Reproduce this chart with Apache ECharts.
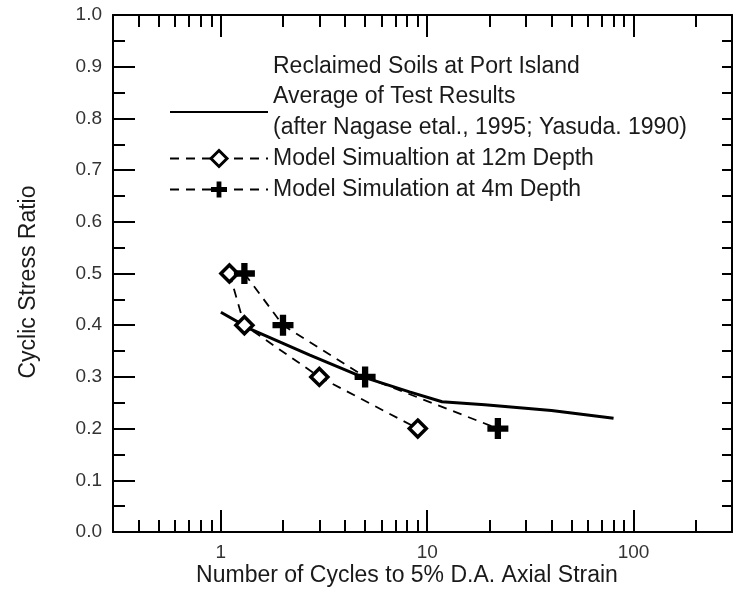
<!DOCTYPE html>
<html>
<head>
<meta charset="utf-8">
<script src="https://cdn.jsdelivr.net/npm/echarts@6/dist/echarts.min.js"></script>
<style>
html,body{margin:0;padding:0;background:#fff;}
#chart{width:736px;height:590px;}
</style>
</head>
<body>
<div id="chart"></div>
<script>
// ---- data ----
const avgX = [1.0, 1.4, 2.7, 4.7, 8.2, 11.8, 19, 40, 80];
const avgY = [0.425, 0.392, 0.342, 0.302, 0.271, 0.252, 0.246, 0.235, 0.22];
const d12X = [1.1, 1.3, 3, 9];
const d12Y = [0.5, 0.4, 0.3, 0.2];
const d4X = [1.3, 2, 5, 22];
const d4Y = [0.5, 0.4, 0.3, 0.2];
const xMajorTicks = [1, 10, 100];
const xMinorTicks = [0.4, 0.5, 0.6, 0.7, 0.8, 0.9, 2, 3, 4, 5, 6, 7, 8, 9, 20, 30, 40, 50, 60, 70, 80, 90, 200];
const xTitle = 'Number of Cycles to 5% D.A. Axial Strain';
const yTitle = 'Cyclic Stress Ratio';
const legendHead = 'Reclaimed Soils at Port Island';
const nameAvg = 'Average of Test Results\n(after Nagase etal., 1995; Yasuda. 1990)';
const name12 = 'Model Simualtion at 12m Depth';
const name4 = 'Model Simulation at 4m Depth';

const pairs = (xs, ys) => xs.map((x, i) => [x, ys[i]]);
const FONT = '"Liberation Sans", Arial, sans-serif';
const plus = 'path://M7,0H13V7H20V13H13V20H7V13H0V7H7Z';

const chart = echarts.init(document.getElementById('chart'));
const blk = '#000';
function xAx(pos, ticks, len, showLine, showLabel) {
  return {
    type: 'log', logBase: 10, min: 0.3, max: 300, position: pos,
    axisLine: {show: showLine, onZero: false, lineStyle: {color: blk, width: 2}},
    axisTick: {show: true, inside: true, length: len, customValues: ticks, lineStyle: {color: blk, width: 2}},
    axisLabel: {show: showLabel, customValues: xMajorTicks, margin: 11, fontSize: 19, color: '#333', fontFamily: FONT},
    splitLine: {show: false}, minorTick: {show: false}, minorSplitLine: {show: false}
  };
}
const option = {
  animation: false,
  backgroundColor: '#fff',
  grid: {left: 113, right: 4, top: 15, bottom: 58},
  xAxis: [
    xAx('bottom', xMajorTicks, 22, true, true),
    xAx('bottom', xMinorTicks, 12, false, false),
    xAx('top', xMajorTicks, 22, true, false),
    xAx('top', xMinorTicks, 12, false, false)
  ],
  yAxis: [
    {
      type: 'value', min: 0, max: 1, interval: 0.1, position: 'left',
      axisLine: {show: true, lineStyle: {color: blk, width: 2}},
      axisTick: {show: true, inside: true, length: 22, lineStyle: {color: blk, width: 2}},
      minorTick: {show: true, splitNumber: 2, length: 12, lineStyle: {color: blk, width: 2}},
      axisLabel: {formatter: v => v.toFixed(1), margin: 11, fontSize: 19, color: '#333', fontFamily: FONT},
      splitLine: {show: false}, minorSplitLine: {show: false}
    },
    {
      type: 'value', min: 0, max: 1, interval: 0.05, position: 'right',
      axisLine: {show: true, lineStyle: {color: blk, width: 2}},
      axisTick: {show: true, inside: true, length: 10, lineStyle: {color: blk, width: 2}},
      axisLabel: {show: false}, splitLine: {show: false}
    }
  ],
  legend: {
    orient: 'vertical', left: 164, top: 76, itemGap: 0,
    itemWidth: 98, itemHeight: 20,
    textStyle: {fontSize: 23, lineHeight: 31, color: '#1a1a1a', fontFamily: FONT},
    data: [
      {name: nameAvg, itemStyle: {opacity: 0}},
      {name: name12, itemStyle: {borderWidth: 3, color: '#fff', borderColor: blk}},
      {name: name4, itemStyle: {borderWidth: 0, color: blk}}
    ]
  },
  graphic: [
    {type: 'text', left: 273, top: 55, style: {text: legendHead, font: '23px ' + FONT, fill: '#1a1a1a'}},
    {type: 'text', x: 407, y: 576, style: {text: xTitle, font: '23px ' + FONT, fill: '#1a1a1a', align: 'center', verticalAlign: 'middle'}},
    {type: 'text', x: 29, y: 282, rotation: Math.PI / 2, style: {text: yTitle, font: '23px ' + FONT, fill: '#1a1a1a', align: 'center', verticalAlign: 'middle'}}
  ],
  series: [
    {
      name: name12, type: 'line', data: pairs(d12X, d12Y),
      symbol: 'diamond', symbolSize: 17,
      itemStyle: {color: '#fff', borderColor: blk, borderWidth: 3.5},
      lineStyle: {color: blk, width: 1.8, type: [9, 7]}, z: 3
    },
    {
      name: name4, type: 'line', data: pairs(d4X, d4Y),
      symbol: plus, symbolSize: 21,
      itemStyle: {color: blk, borderWidth: 0},
      lineStyle: {color: blk, width: 1.8, type: [9, 7]}, z: 3
    },
    {
      name: nameAvg, type: 'line', data: pairs(avgX, avgY),
      symbol: 'none', itemStyle: {color: blk}, lineStyle: {color: blk, width: 3}, z: 2
    }
  ]
};
chart.setOption(option);
</script>
</body>
</html>
